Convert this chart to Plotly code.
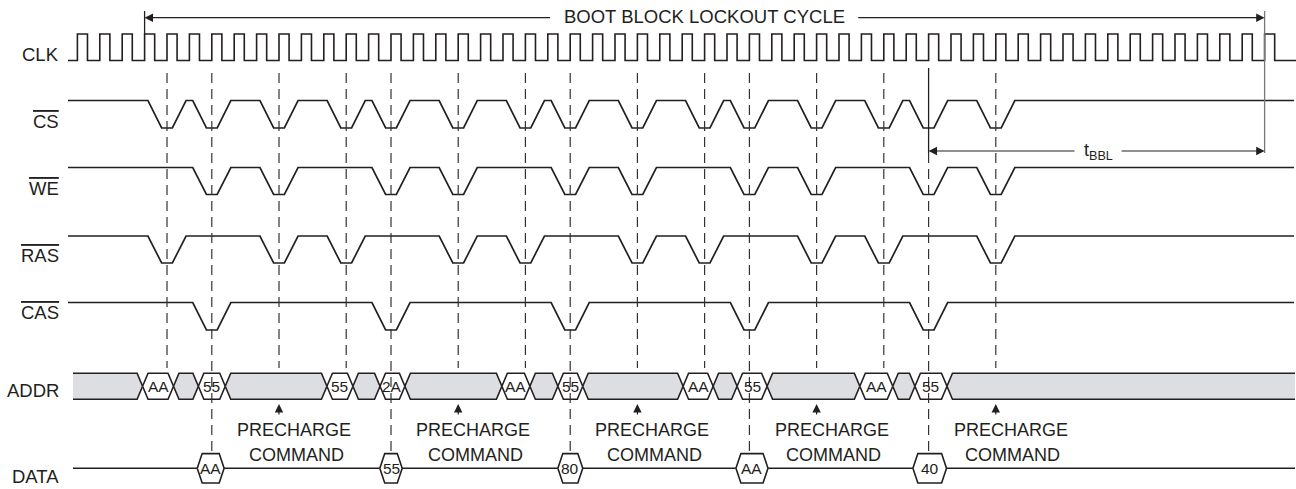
import plotly.graph_objects as go

# ---------------- data (times in clock cycles) ----------------
clk_rising = list(range(0, 54))
cs_low = [4, 6, 9, 12, 14, 17, 20, 22, 25, 28, 30, 33, 36, 38, 41]
we_low = [6, 9, 14, 17, 22, 25, 30, 33, 38, 41]
ras_low = [4, 9, 12, 17, 20, 25, 28, 33, 36, 41]
cas_low = [6, 14, 22, 30, 38]
addr_labels = ["AA", "55", "55", "2A", "AA", "55", "AA", "55", "AA", "55"]
addr_start = [2.91, 5.40, 11.14, 13.51, 18.95, 21.45, 27.04, 29.45, 34.93, 37.39]
addr_end = [4.29, 6.60, 12.30, 14.62, 20.20, 22.56, 28.38, 30.79, 36.40, 38.82]
data_labels = ["AA", "55", "80", "AA", "40"]
data_start = [5.35, 13.50, 21.45, 29.40, 37.30]
data_end = [6.55, 14.50, 22.56, 30.83, 38.80]
precharge_at = [9, 17, 25, 33, 41]
lockout = [3, 53]
tbbl = [38, 53]
signal_labels = ["CLK", "CS", "WE", "RAS", "CAS", "ADDR", "DATA"]
signal_overline = [False, True, True, True, True, False, False]

# ---------------- layout geometry ----------------
T0, P = 77.4, 22.4          # pixel of cycle 0, pixels per cycle
W, H = 1296, 489
def t_of(px):
    return (px - T0) / P

INK = "#231f20"
GREY = "#dcdee1"
FONT = "Liberation Sans, Arial, Helvetica, sans-serif"
LW = 1.7

x_sig0, x_sig1 = t_of(68), t_of(1294)
x_bus0, x_bus1 = t_of(73), t_of(1295)

fig = go.Figure()

def add_line(xs, ys, width=LW, color=INK, dash=None):
    fig.add_trace(go.Scatter(x=xs, y=ys, mode="lines", hoverinfo="skip",
                             line=dict(color=color, width=width, dash=dash),
                             showlegend=False))

# CLK
clk_hi, clk_lo, duty = 34, 60.5, 0.45
xs, ys = [x_sig0], [clk_lo]
for r in clk_rising:
    xs += [r, r, r + duty, r + duty]
    ys += [clk_lo, clk_hi, clk_hi, clk_lo]
xs.append(t_of(W + 5)); ys.append(clk_lo)
add_line(xs, ys, width=1.6)

# active-low control signals
rows = {"CS": (100.5, 128, cs_low), "WE": (167.5, 194.5, we_low),
        "RAS": (236, 263, ras_low), "CAS": (302.5, 330, cas_low)}
OUT, INN = 0.85, 0.24
for name, (hi, lo, lows) in rows.items():
    xs, ys = [x_sig0], [hi]
    for c in lows:
        xs += [c - OUT, c - INN, c + INN, c + OUT]
        ys += [hi, lo, lo, hi]
    xs.append(x_sig1); ys.append(hi)
    add_line(xs, ys)

# ADDR bus
a_top, a_bot = 373.3, 399.3
a_mid = (a_top + a_bot) / 2
d = 0.245
bounds = [x_bus0]
for s, e in zip(addr_start, addr_end):
    bounds += [s, e]
bounds.append(x_bus1)
segs = [(bounds[i], bounds[i + 1], i % 2 == 1) for i in range(len(bounds) - 1)]
for i, (x0, x1, is_hex) in enumerate(segs):
    open_l = i == 0
    open_r = i == len(segs) - 1
    if open_l:
        px_ = [x0, x1 - d, x1, x1 - d, x0]
        py_ = [a_top, a_top, a_mid, a_bot, a_bot]
    elif open_r:
        px_ = [x1, x0 + d, x0, x0 + d, x1]
        py_ = [a_top, a_top, a_mid, a_bot, a_bot]
    else:
        px_ = [x0, x0 + d, x1 - d, x1, x1 - d, x0 + d, x0]
        py_ = [a_mid, a_top, a_top, a_mid, a_bot, a_bot, a_mid]
    fig.add_trace(go.Scatter(x=px_ + [px_[0]], y=py_ + [py_[0]], mode="lines",
                             fill="toself", fillcolor="white" if is_hex else GREY,
                             line=dict(width=0), hoverinfo="skip", showlegend=False))
    add_line(px_, py_, width=1.6)

# DATA bus
d_mid, d_h, dd = 468.3, 14.7, 0.22
add_line([x_bus0, x_bus1], [d_mid, d_mid], width=1.6)
for s, e in zip(data_start, data_end):
    px_ = [s, s + dd, e - dd, e, e - dd, s + dd, s]
    py_ = [d_mid, d_mid - d_h, d_mid - d_h, d_mid, d_mid + d_h, d_mid + d_h, d_mid]
    fig.add_trace(go.Scatter(x=px_, y=py_, mode="lines", fill="toself",
                             fillcolor="white", line=dict(color=INK, width=1.6),
                             hoverinfo="skip", showlegend=False))

# reference dashed lines
DASH = "10px,6px"
short_ev = sorted(set(ras_low))
long_ev = cas_low
for t in short_ev:
    add_line([t, t], [73, 368], width=1.2, dash=DASH, color="#333333")
for t in long_ev:
    top = 153 if t == tbbl[0] else 73
    add_line([t, t], [top, 452], width=1.2, dash=DASH, color="#333333")

# solid markers
add_line([tbbl[0], tbbl[0]], [68, 153], width=1.3)
add_line([lockout[0], lockout[0]], [11, 34], width=1.3)
add_line([lockout[1], lockout[1]], [11, 153], width=1.3, color="#777777")

ann = []
def arrow(x_head, y_head, x_tail, y_tail, color=INK):
    ann.append(dict(x=x_head, y=y_head, ax=x_tail, ay=y_tail, xref="x", yref="y",
                    axref="x", ayref="y", text="", showarrow=True, arrowhead=2,
                    arrowsize=1.4, arrowwidth=1.2, arrowcolor=color, standoff=0))

def text(x, y, s, size=18, xanchor="center"):
    ann.append(dict(x=x, y=y, xref="x", yref="y", text=s, showarrow=False,
                    xanchor=xanchor, yanchor="middle",
                    font=dict(family=FONT, size=size, color=INK)))

# BOOT BLOCK LOCKOUT CYCLE
mid_l = (lockout[0] + lockout[1]) / 2
arrow(lockout[0], 17.7, mid_l - 6.83, 17.7)
arrow(lockout[1], 17.7, mid_l + 6.79, 17.7)
text(mid_l, 16.7, "BOOT BLOCK LOCKOUT CYCLE", size=18.5)

# tBBL
mid_b = (tbbl[0] + tbbl[1]) / 2
arrow(tbbl[0], 151, mid_b - 0.92, 151)
arrow(tbbl[1], 151, mid_b + 1.05, 151)
text(mid_b + 0.08, 151, "t<sub>BBL</sub>", size=18)

# precharge arrows and text
for t in precharge_at:
    arrow(t, 404, t, 416)
    text(t + 0.67, 430, "PRECHARGE", size=18)
    text(t + 0.76, 455, "COMMAND", size=18)

# hex labels
for s, e, lab in zip(addr_start, addr_end, addr_labels):
    text((s + e) / 2, a_mid, lab, size=15.5)
for s, e, lab in zip(data_start, data_end, data_labels):
    text((s + e) / 2, d_mid, lab, size=15.5)

# signal labels
label_y = [54.5, 121.5, 188.3, 255.3, 312, 390, 476.5]
for lab, ov, y in zip(signal_labels, signal_overline, label_y):
    s = '<span style="text-decoration:overline">%s</span>' % lab if ov else lab
    text(t_of(60.5), y, s, size=18.5, xanchor="right")

fig.update_layout(
    width=W, height=H, margin=dict(l=0, r=0, t=0, b=0),
    paper_bgcolor="white", plot_bgcolor="white",
    xaxis=dict(range=[t_of(0), t_of(W)], visible=False, fixedrange=True),
    yaxis=dict(range=[H, 0], visible=False, fixedrange=True),
    annotations=ann, showlegend=False,
)
fig.write_html("out.html", config={"displayModeBar": False},
               post_script="document.body.style.margin='0px';document.body.style.overflow='hidden';")
